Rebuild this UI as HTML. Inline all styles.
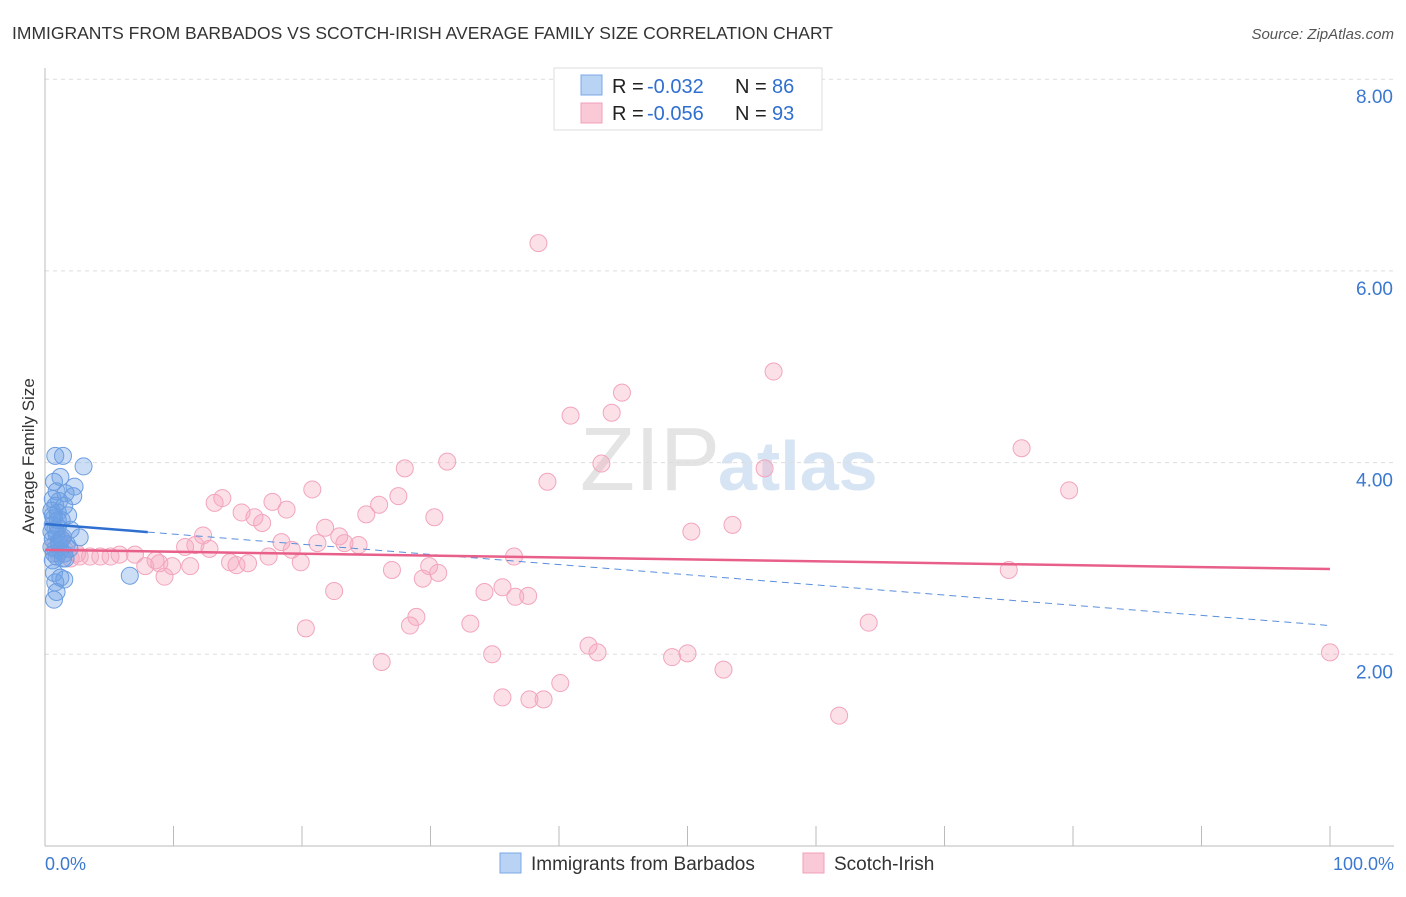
<!DOCTYPE html>
<html><head><meta charset="utf-8"><style>
body{margin:0;background:#fff;font-family:"Liberation Sans",sans-serif}
svg text{font-family:"Liberation Sans",sans-serif}
</style></head><body>
<svg id="c" width="1406" height="892" xmlns="http://www.w3.org/2000/svg">
<text x="12" y="39" font-size="17.5" fill="#333">IMMIGRANTS FROM BARBADOS VS SCOTCH-IRISH AVERAGE FAMILY SIZE CORRELATION CHART</text>
<text x="1394" y="39" font-size="15" fill="#555" font-style="italic" text-anchor="end">Source: ZipAtlas.com</text>
<text x="34" y="456" font-size="17" fill="#333" text-anchor="middle" transform="rotate(-90 34 456)">Average Family Size</text>
<text x="720" y="490" font-size="90" fill="#e4e4e4" text-anchor="end" font-family="Liberation Serif">ZIP</text>
<text x="718" y="490" font-size="70" fill="#d6e4f4" font-weight="bold">atlas</text>
<g id="grid"></g><g id="pts"></g><g id="lines"></g>
<g>
<rect x="554" y="68" width="268" height="62" fill="#fff" stroke="#ddd"/>
<rect x="581" y="75" width="21" height="20" fill="#b9d3f5" stroke="#7aa7e6"/>
<text x="612" y="93" font-size="20" fill="#222">R =</text>
<text x="647" y="93" font-size="20" fill="#2f6fd0">-0.032</text>
<text x="735" y="93" font-size="20" fill="#222">N =</text>
<text x="772" y="93" font-size="20" fill="#2f6fd0">86</text>
<rect x="581" y="103" width="21" height="20" fill="#fac9d8" stroke="#f0a0b8"/>
<text x="612" y="120" font-size="20" fill="#222">R =</text>
<text x="647" y="120" font-size="20" fill="#2f6fd0">-0.056</text>
<text x="735" y="120" font-size="20" fill="#222">N =</text>
<text x="772" y="120" font-size="20" fill="#2f6fd0">93</text>
</g>
<g>
<rect x="500" y="853" width="21" height="20" fill="#b9d3f5" stroke="#7aa7e6"/>
<text x="531" y="870" font-size="19" fill="#333">Immigrants from Barbados</text>
<rect x="803" y="853" width="21" height="20" fill="#fac9d8" stroke="#f0a0b8"/>
<text x="834" y="870" font-size="19" fill="#333">Scotch-Irish</text>
</g>
<text x="45" y="870" font-size="18" fill="#3b78d0">0.0%</text>
<text x="1394" y="870" font-size="18" fill="#3b78d0" text-anchor="end">100.0%</text>
</svg>
<script>
const yTicks=[2,4,6,8];
const blueX=[0.8,1.4,3.0,1.2,0.7,2.3,0.9,1.6,2.2,0.6,1.1,0.8,1.5,0.5,1.0,1.8,0.7,1.3,0.6,1.0,2.0,0.5,0.9,1.4,2.7,0.6,1.1,1.7,0.5,0.8,1.2,0.7,1.5,0.9,1.6,0.6,1.1,0.8,1.3,0.7,1.2,1.5,0.8,6.6,0.9,0.7,1.0,0.6,1.9,1.4];
const blueY=[4.07,4.07,3.96,3.85,3.8,3.75,3.7,3.68,3.65,3.62,3.6,3.55,3.55,3.5,3.48,3.45,3.42,3.4,3.35,3.33,3.3,3.28,3.25,3.22,3.22,3.2,3.18,3.15,3.12,3.1,3.08,3.05,3.05,3.02,3.0,2.98,3.15,3.3,3.2,2.85,2.8,2.78,2.75,2.82,2.65,2.57,3.4,3.45,3.1,3.0];
const pinkX=[38.4,56.7,44.9,40.9,44.1,76.0,31.3,28.0,43.3,56.0,39.1,20.8,79.7,27.5,13.8,13.2,17.7,26.0,18.8,15.3,25.0,30.3,16.3,16.9,21.8,53.5,12.3,50.3,22.9,18.4,21.2,23.3,24.4,11.7,10.9,12.8,19.2,17.4,36.5,5.8,7.0,4.3,5.1,3.5,2.7,8.6,14.4,15.8,19.9,9.9,11.3,14.9,7.8,8.9,29.9,27.0,75.0,30.6,9.3,29.4,35.6,22.5,34.2,36.6,37.6,28.9,33.1,28.4,64.1,20.3,42.3,43.0,34.8,50.0,48.8,26.2,100.0,52.8,40.1,35.6,37.7,38.8,61.8,1.0,1.5,2.0,1.2,0.8,2.5];
const pinkY=[6.29,4.95,4.73,4.49,4.52,4.15,4.01,3.94,3.99,3.94,3.80,3.72,3.71,3.65,3.63,3.58,3.59,3.56,3.51,3.48,3.46,3.43,3.43,3.37,3.32,3.35,3.24,3.28,3.23,3.17,3.16,3.16,3.14,3.14,3.12,3.10,3.09,3.02,3.02,3.04,3.04,3.02,3.02,3.02,3.02,2.98,2.96,2.95,2.96,2.92,2.92,2.93,2.92,2.95,2.92,2.88,2.88,2.85,2.81,2.79,2.70,2.66,2.65,2.60,2.61,2.39,2.32,2.30,2.33,2.27,2.09,2.02,2.00,2.01,1.97,1.92,2.02,1.84,1.70,1.55,1.53,1.53,1.36,3.05,3.1,3.0,3.2,3.15,3.05];
const blueTrend=[3.36,2.30];
const pinkTrend=[3.09,2.89];
const NS='http://www.w3.org/2000/svg';
const X=v=>45+v*12.85, Y=v=>846-v*95.85;
function mk(t,a,p){const e=document.createElementNS(NS,t);for(const k in a)e.setAttribute(k,a[k]);p.appendChild(e);return e;}
const g=document.getElementById('grid');
yTicks.forEach(t=>{
 const l=mk('line',{x1:45,x2:1394,y1:Y(t),y2:Y(t),stroke:'#ddd','stroke-dasharray':'4,4'},g);
 
 
 const tx=mk('text',{x:1393,y:Y(t)+24,'font-size':19,fill:'#3b78d0','text-anchor':'end'},g);
 tx.textContent=t.toFixed(2);
 
 
});
mk('line',{x1:45,x2:45,y1:68,y2:846,stroke:'#bbb'},g);
mk('line',{x1:45,x2:1394,y1:846,y2:846,stroke:'#bbb'},g);
for(let i=0;i<=10;i++){mk('line',{x1:X(i*10),x2:X(i*10),y1:826,y2:846,stroke:'#bbb'},g);}
const P=document.getElementById('pts');
pinkX.forEach((x,i)=>{const c=mk('circle',{cx:X(x),cy:Y(pinkY[i]),r:8.5,fill:'rgba(246,165,190,0.35)',stroke:'#f2a5bd','stroke-width':1},P);

});
blueX.forEach((x,i)=>{const c=mk('circle',{cx:X(x),cy:Y(blueY[i]),r:8.5,fill:'rgba(110,160,230,0.35)',stroke:'#6c9de0','stroke-width':1},P);

});
const L=document.getElementById('lines');
const bAt=x=>blueTrend[0]+(blueTrend[1]-blueTrend[0])*x/100;
const b1=mk('line',{x1:X(0),y1:Y(bAt(0)),x2:X(8),y2:Y(bAt(8)),stroke:'#2f6fd0','stroke-width':2.5},L);


const b2=mk('line',{x1:X(8),y1:Y(bAt(8)),x2:X(100),y2:Y(bAt(100)),stroke:'#5a8fdc','stroke-width':1,'stroke-dasharray':'7,5'},L);


const p1=mk('line',{x1:X(0),y1:Y(pinkTrend[0]),x2:X(100),y2:Y(pinkTrend[1]),stroke:'#e8608a','stroke-width':2.5},L);


</script>
</body></html>
